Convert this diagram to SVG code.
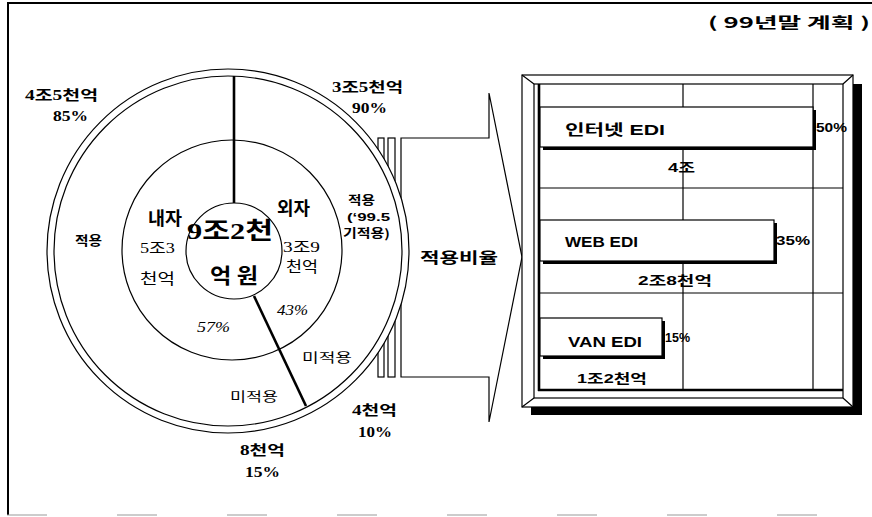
<svg xmlns="http://www.w3.org/2000/svg" width="872" height="517" viewBox="0 0 872 517">
<style>
.ln{fill:none;stroke:#000;stroke-width:1.2}
.wf{fill:#fff;stroke:#000;stroke-width:1.2}
.thk{fill:none;stroke:#000;stroke-width:2.6}
.bs{font-family:"Liberation Serif","Noto Sans CJK KR",serif;font-weight:bold;fill:#000}
.rs{font-family:"Liberation Serif","Noto Sans CJK KR",serif;fill:#000}
.it{font-family:"Liberation Serif","Noto Sans CJK KR",serif;font-style:italic;fill:#000}
.gs{font-family:"Noto Sans CJK KR","Liberation Sans",sans-serif;font-weight:bold;fill:#000}
.ss{font-family:"Noto Sans CJK KR","Liberation Sans",sans-serif;fill:#000}
.cs{font-family:"Liberation Sans","Noto Sans CJK KR",sans-serif;font-weight:bold;fill:#000}
</style>
<rect width="872" height="517" fill="#fff"/>
<g id="frame">
<line x1="8" y1="3" x2="8" y2="515" stroke="#000" stroke-width="2"/>
<line x1="7" y1="3" x2="872" y2="3" stroke="#000" stroke-width="2"/>
<line x1="7" y1="515" x2="870" y2="515" stroke="#999" stroke-width="1" stroke-dasharray="40 70"/>
</g>
<g id="callout">
<rect x="378" y="138" width="6" height="239" class="wf" stroke-width="1"/>
<rect x="388" y="138" width="7" height="239" class="wf" stroke-width="1"/>
<polygon points="401,138 489,138 489,93 522,257 489,422 489,377 401,377" class="wf"/>
</g>
<g id="donut">
<ellipse cx="228" cy="251" rx="181" ry="182" class="wf"/>
<ellipse cx="228" cy="251" rx="174" ry="175" class="wf"/>
<circle cx="232" cy="250" r="110" class="wf"/>
<circle cx="234" cy="251" r="48" class="wf"/>
</g>
<g id="connectors">
<line x1="234" y1="76" x2="234" y2="203" class="thk"/>
<line x1="254" y1="296" x2="306" y2="406" class="thk"/>
</g>
<g id="labels">
<text class="bs" x="25" y="100" font-size="14" textLength="73" lengthAdjust="spacingAndGlyphs">4조5천억</text>
<text class="bs" x="53" y="121" font-size="15" textLength="35" lengthAdjust="spacingAndGlyphs">85%</text>
<text class="bs" x="332" y="92" font-size="14" textLength="71" lengthAdjust="spacingAndGlyphs">3조5천억</text>
<text class="bs" x="352" y="113" font-size="15" textLength="35" lengthAdjust="spacingAndGlyphs">90%</text>
<text class="gs" x="75" y="245" font-size="13" textLength="27" lengthAdjust="spacingAndGlyphs">적용</text>
<text class="gs" x="148" y="225" font-size="18" textLength="34" lengthAdjust="spacingAndGlyphs">내자</text>
<text class="gs" x="277" y="215" font-size="18" textLength="33" lengthAdjust="spacingAndGlyphs">외자</text>
<text class="gs" x="348" y="205" font-size="12" textLength="27" lengthAdjust="spacingAndGlyphs">적용</text>
<text class="cs" x="347" y="221" font-size="11.5" textLength="43" lengthAdjust="spacingAndGlyphs">(‘99.5</text>
<text class="gs" x="343" y="238" font-size="12" textLength="47" lengthAdjust="spacingAndGlyphs">기적용)</text>
<text class="bs" x="187" y="239" font-size="24" textLength="86" lengthAdjust="spacingAndGlyphs">9조2천</text>
<text class="gs" x="210" y="283" font-size="21" textLength="48" lengthAdjust="spacingAndGlyphs">억 원</text>
<text class="rs" x="140" y="253" font-size="15" textLength="35" lengthAdjust="spacingAndGlyphs">5조3</text>
<text class="ss" x="140" y="284" font-size="15" textLength="35" lengthAdjust="spacingAndGlyphs">천억</text>
<text class="rs" x="283" y="252" font-size="15" textLength="37" lengthAdjust="spacingAndGlyphs">3조9</text>
<text class="ss" x="286" y="272" font-size="15" textLength="32" lengthAdjust="spacingAndGlyphs">천억</text>
<text class="it" x="197" y="332" font-size="15" textLength="33" lengthAdjust="spacingAndGlyphs">57%</text>
<text class="it" x="277" y="315" font-size="15" textLength="31" lengthAdjust="spacingAndGlyphs">43%</text>
<text class="ss" x="302" y="362" font-size="13" textLength="50" lengthAdjust="spacingAndGlyphs">미적용</text>
<text class="ss" x="230" y="401" font-size="13" textLength="48" lengthAdjust="spacingAndGlyphs">미적용</text>
<text class="bs" x="352" y="415" font-size="14" textLength="45" lengthAdjust="spacingAndGlyphs">4천억</text>
<text class="bs" x="358" y="437" font-size="15" textLength="34" lengthAdjust="spacingAndGlyphs">10%</text>
<text class="bs" x="240" y="455" font-size="14" textLength="45" lengthAdjust="spacingAndGlyphs">8천억</text>
<text class="bs" x="245" y="477" font-size="15" textLength="35" lengthAdjust="spacingAndGlyphs">15%</text>
<text class="gs" x="420" y="263" font-size="15" textLength="78" lengthAdjust="spacingAndGlyphs">적용비율</text>
<text class="gs" x="708" y="28" font-size="15" textLength="162" lengthAdjust="spacingAndGlyphs">( 99년말 계획 )</text>
</g>
<g id="chart">
<rect x="531" y="84" width="331" height="331" fill="#000"/>
<rect x="522" y="75" width="331" height="332" class="wf"/>
<rect x="534" y="84" width="309" height="314" class="ln" stroke-width="1"/>
<line x1="522" y1="75" x2="534" y2="84" class="ln" stroke-width="1"/>
<line x1="853" y1="75" x2="843" y2="84" class="ln" stroke-width="1"/>
<line x1="522" y1="407" x2="534" y2="398" class="ln" stroke-width="1"/>
<line x1="853" y1="407" x2="843" y2="398" class="ln" stroke-width="1"/>
<line x1="683" y1="84" x2="683" y2="390" class="ln" stroke-width="1"/>
<line x1="813" y1="84" x2="813" y2="390" class="ln" stroke-width="1"/>
<line x1="539" y1="188" x2="843" y2="188" class="ln" stroke-width="1"/>
<line x1="539" y1="293" x2="843" y2="293" class="ln" stroke-width="1"/>
<line x1="539" y1="84" x2="539" y2="391" class="thk" stroke-width="3"/>
<line x1="538" y1="390" x2="843" y2="390" class="thk" stroke-width="3"/>
</g>
<g id="bar-internet">
<rect x="543" y="110" width="273" height="40" fill="#000"/>
<rect x="540" y="107" width="273" height="40" class="wf"/>
<text class="cs" x="565" y="135" font-size="15" textLength="100" lengthAdjust="spacingAndGlyphs">인터넷 EDI</text>
<text class="cs" x="816" y="132" font-size="12" textLength="31" lengthAdjust="spacingAndGlyphs">50%</text>
<text class="cs" x="668" y="172" font-size="13" textLength="27" lengthAdjust="spacingAndGlyphs">4조</text>
</g>
<g id="bar-web">
<rect x="543" y="223" width="234" height="41" fill="#000"/>
<rect x="540" y="220" width="234" height="41" class="wf"/>
<text class="cs" x="565" y="247" font-size="15" textLength="73" lengthAdjust="spacingAndGlyphs">WEB EDI</text>
<text class="cs" x="776" y="245" font-size="12" textLength="34" lengthAdjust="spacingAndGlyphs">35%</text>
<text class="cs" x="638" y="285" font-size="13" textLength="74" lengthAdjust="spacingAndGlyphs">2조8천억</text>
</g>
<g id="bar-van">
<rect x="543" y="321" width="122" height="38" fill="#000"/>
<rect x="540" y="318" width="122" height="38" class="wf"/>
<text class="cs" x="568" y="347" font-size="15" textLength="74" lengthAdjust="spacingAndGlyphs">VAN EDI</text>
<text class="cs" x="665" y="342" font-size="12" textLength="25" lengthAdjust="spacingAndGlyphs">15%</text>
<text class="cs" x="577" y="383" font-size="13" textLength="70" lengthAdjust="spacingAndGlyphs">1조2천억</text>
</g>
</svg>
